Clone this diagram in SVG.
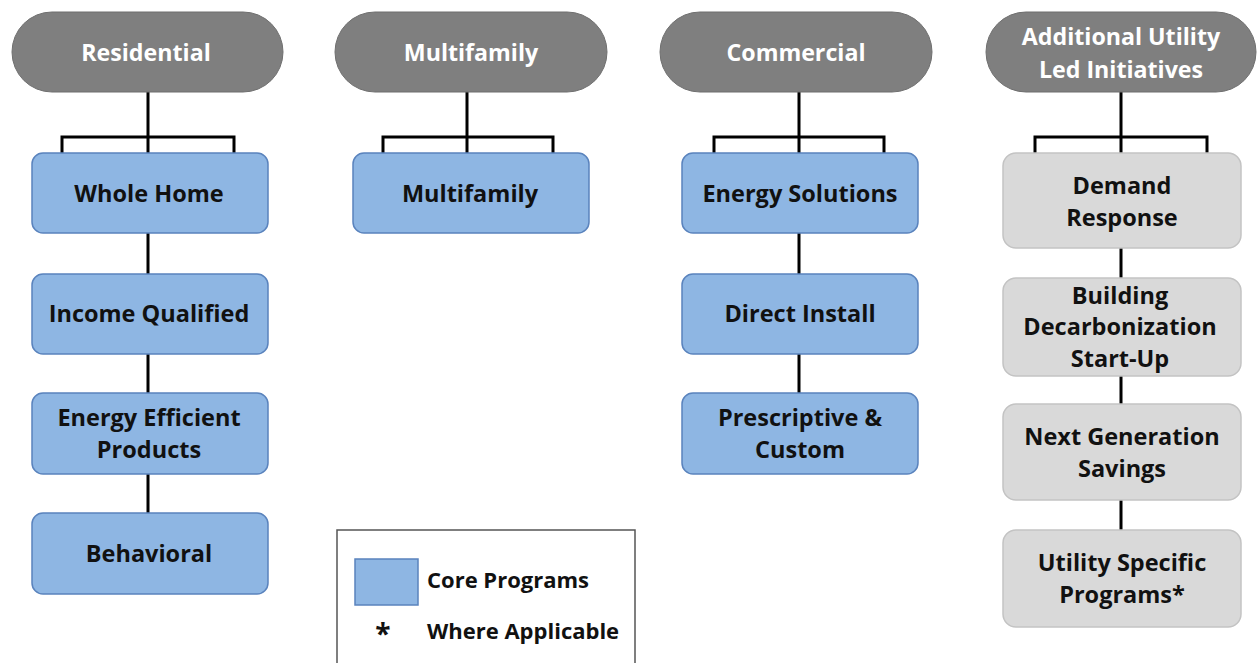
<svg xmlns="http://www.w3.org/2000/svg" width="1257" height="663" viewBox="0 0 1257 663">
<style>
.hdr{fill:#7f7f7f;stroke:#6f6f6f;stroke-width:1}
.core{fill:#8eb6e3;stroke:#5a83bd;stroke-width:1.5}
.add{fill:#d9d9d9;stroke:#c3c3c3;stroke-width:1.5}
.ht{font-family:"Open Sans","Liberation Sans",sans-serif;font-weight:700;font-size:23.2px;fill:#ffffff;text-anchor:middle}
.bt{font-family:"Open Sans","Liberation Sans",sans-serif;font-weight:700;font-size:23.5px;fill:#111111;text-anchor:middle}
.lt{font-family:"Open Sans","Liberation Sans",sans-serif;font-weight:700;font-size:22px;fill:#111111}
.ln{fill:none;stroke:#000000;stroke-width:3}
</style>
<rect width="1257" height="663" fill="#ffffff"/>
<g id="connectors">
<path class="ln" d="M148 92V153M62 153V137H234V153"/>
<path class="ln" d="M148 233V274M148 354V393M148 474V513"/>
<path class="ln" d="M467 92V153M383 153V137H553V153"/>
<path class="ln" d="M799 92V153M714 153V137H884V153"/>
<path class="ln" d="M799 233V274M799 354V393"/>
<path class="ln" d="M1121 92V153M1035 153V137H1207V153"/>
<path class="ln" d="M1121 248V278M1121 376V404M1121 500V530"/>
</g>
<g id="h-residential"><rect class="hdr" x="12" y="12" width="271" height="80" rx="40"/><text class="ht" x="146" y="61">Residential</text></g>
<g id="h-multifamily"><rect class="hdr" x="335" y="12" width="272" height="80" rx="40"/><text class="ht" x="471" y="61">Multifamily</text></g>
<g id="h-commercial"><rect class="hdr" x="660" y="12" width="272" height="80" rx="40"/><text class="ht" x="796" y="61">Commercial</text></g>
<g id="h-additional"><rect class="hdr" x="986" y="12" width="270" height="80" rx="40"/><text class="ht" x="1121" y="45">Additional Utility</text><text class="ht" x="1121" y="78">Led Initiatives</text></g>
<g id="n-whole-home"><rect class="core" x="32" y="153" width="236" height="80" rx="11"/><text class="bt" x="149" y="202">Whole Home</text></g>
<g id="n-income-qualified"><rect class="core" x="32" y="274" width="236" height="80" rx="11"/><text class="bt" x="149" y="322">Income Qualified</text></g>
<g id="n-eep"><rect class="core" x="32" y="393" width="236" height="81" rx="11"/><text class="bt" x="149" y="426">Energy Efficient</text><text class="bt" x="149" y="458">Products</text></g>
<g id="n-behavioral"><rect class="core" x="32" y="513" width="236" height="81" rx="11"/><text class="bt" x="149" y="562">Behavioral</text></g>
<g id="n-multifamily"><rect class="core" x="353" y="153" width="236" height="80" rx="11"/><text class="bt" x="470" y="202">Multifamily</text></g>
<g id="n-energy-solutions"><rect class="core" x="682" y="153" width="236" height="80" rx="11"/><text class="bt" x="800" y="202">Energy Solutions</text></g>
<g id="n-direct-install"><rect class="core" x="682" y="274" width="236" height="80" rx="11"/><text class="bt" x="800" y="322">Direct Install</text></g>
<g id="n-prescriptive"><rect class="core" x="682" y="393" width="236" height="81" rx="11"/><text class="bt" x="800" y="426">Prescriptive &amp;</text><text class="bt" x="800" y="458">Custom</text></g>
<g id="n-demand-response"><rect class="add" x="1003" y="153" width="238" height="95" rx="13"/><text class="bt" x="1122" y="194">Demand</text><text class="bt" x="1122" y="226">Response</text></g>
<g id="n-building-decarb"><rect class="add" x="1003" y="278" width="238" height="98" rx="13"/><text class="bt" x="1120" y="304">Building</text><text class="bt" x="1120" y="335">Decarbonization</text><text class="bt" x="1120" y="367">Start-Up</text></g>
<g id="n-next-gen"><rect class="add" x="1003" y="404" width="238" height="96" rx="13"/><text class="bt" x="1122" y="445">Next Generation</text><text class="bt" x="1122" y="477">Savings</text></g>
<g id="n-utility-specific"><rect class="add" x="1003" y="530" width="238" height="97" rx="13"/><text class="bt" x="1122" y="571">Utility Specific</text><text class="bt" x="1122" y="603">Programs*</text></g>
<g id="legend">
<rect x="337" y="530" width="298" height="140" fill="#ffffff" stroke="#555555" stroke-width="1.5"/>
<rect x="355" y="559" width="63" height="46" fill="#8eb6e3" stroke="#5a83bd" stroke-width="1.5"/>
<text class="lt" x="427" y="588">Core Programs</text>
<text class="lt" x="383" y="644" text-anchor="middle" style="font-size:28px">*</text>
<text class="lt" x="427" y="639">Where Applicable</text>
</g>
</svg>
